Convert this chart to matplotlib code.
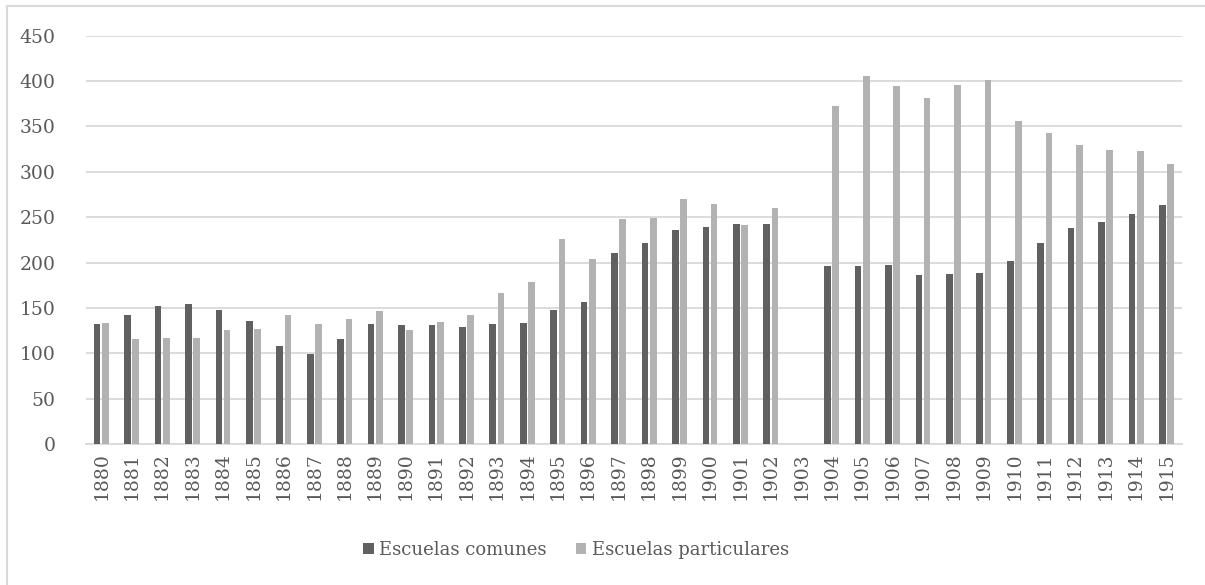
import numpy as np
import matplotlib
matplotlib.use("Agg")
import matplotlib.pyplot as plt
from matplotlib.patches import Rectangle

years = [str(y) for y in range(1880, 1916)]

# 1903 sin datos
comunes = [132, 142, 152, 154, 148, 136, 108, 99, 116, 132,
           131, 131, 129, 132, 133, 148, 157, 210, 222, 236,
           239, 243, 242, np.nan, 196, 196, 197, 186, 187, 189,
           202, 221, 238, 245, 253, 263]
particulares = [133, 116, 117, 117, 126, 127, 142, 132, 138, 147,
                126, 135, 142, 166, 178, 226, 204, 248, 249, 270,
                265, 241, 260, np.nan, 372, 406, 394, 381, 396, 401,
                356, 343, 330, 324, 323, 309]

DARK  = "#606060"
LIGHT = "#b2b2b2"
GRID  = "#d9d9d9"
TEXT  = "#595959"

plt.rcParams["font.family"] = ["DejaVu Serif"]
plt.rcParams["font.size"] = 13.5

fig = plt.figure(figsize=(12.05, 5.85), dpi=100)
ax = fig.add_axes([0.0714, 0.241, 0.9093, 0.698])

x = np.arange(len(years))
w = 0.22
off = 0.135
ax.bar(x - off, comunes, w, color=DARK, label="Escuelas comunes", zorder=3)
ax.bar(x + off, particulares, w, color=LIGHT, label="Escuelas particulares", zorder=3)

ax.set_xlim(-0.5, len(years) - 0.5)
ax.set_ylim(0, 450)
ax.set_yticks(range(0, 451, 50))
ax.set_xticks(x)
ax.set_xticklabels(years, rotation=90)
ax.tick_params(axis="both", length=0, colors=TEXT, labelsize=13.5)
ax.tick_params(axis="y", pad=22)
ax.tick_params(axis="x", pad=6)

ax.grid(axis="y", color=GRID, linewidth=1.3, zorder=0)
for s in ["top", "right", "left"]:
    ax.spines[s].set_visible(False)
ax.spines["bottom"].set_color(GRID)
ax.spines["bottom"].set_linewidth(1.3)

leg = fig.legend(loc="center", bbox_to_anchor=(0.478, 0.06), ncol=2,
                 frameon=False, handlelength=0.6, handleheight=0.6,
                 handletextpad=0.3, columnspacing=1.6, fontsize=13)
for t in leg.get_texts():
    t.set_color(TEXT)

# chart frame (cropped at right and bottom)
fig.patches.append(Rectangle((6.5 / 1205, -0.1), 1.2, 1 - 6.5 / 585 + 0.1,
                             transform=fig.transFigure, fill=False,
                             edgecolor=GRID, linewidth=1.5))

fig.savefig("out.png", dpi=100)
